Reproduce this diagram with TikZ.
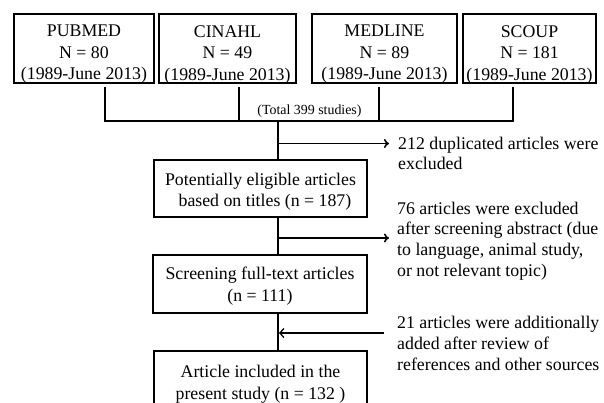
\documentclass[tikz,border=0pt]{standalone}
\usepackage{fontspec}
\setmainfont{Liberation Serif}
\usetikzlibrary{arrows.meta}
\begin{document}
\begin{tikzpicture}[x=1pt,y=-1pt,
  frame/.style={draw,line width=2pt,inner sep=0pt},
  txt/.style={align=center,inner sep=0pt,font=\fontsize{17.8}{21.5}\selectfont},
  side/.style={anchor=west,align=left,inner sep=0pt,
    font=\fontsize{17.8}{20.6}\selectfont},
  conn/.style={line width=2pt},
  arr/.style={line width=1.6pt,-{To[length=5pt,width=9pt]}},
  arrl/.style={line width=1.6pt,-{Straight Barb[length=4pt,width=9pt,line width=1.3pt]}}]
\clip (0,0) rectangle (604,402);
\useasboundingbox (0,0) rectangle (604,402);
% top boxes
\node[frame,minimum width=140,minimum height=69] (pubf) at (84,48.5) {};
\node[frame,minimum width=137,minimum height=69] (cinf) at (227.5,48.5) {};
\node[frame,minimum width=145,minimum height=69] (medf) at (384.5,48.5) {};
\node[frame,minimum width=133,minimum height=69] (scof) at (529.5,48.5) {};
\node[txt] (pub) at ([yshift=-6]pubf.center) {PUBMED\\N = 80\\(1989-June 2013)};
\node[txt] (cin) at ([yshift=-6]cinf.center) {CINAHL\\N = 49\\(1989-June 2013)};
\node[txt] (med) at ([yshift=-6]medf.center) {MEDLINE\\N = 89\\(1989-June 2013)};
\node[txt] (sco) at ([yshift=-6]scof.center) {SCOUP\\N = 181\\(1989-June 2013)};
% connectors from top boxes
\coordinate (a1) at (105,87); \coordinate (b1) at (105,120.5);
\coordinate (a2) at (239,87); \coordinate (b2) at (239,120.5);
\coordinate (a3) at (378.5,87); \coordinate (b3) at (378.5,120.5);
\coordinate (a4) at (512.5,87); \coordinate (b4) at (512.5,120.5);
\draw[conn,line join=miter] (a1) -- (b1) -- (b4) -- (a4);
\draw[conn] (a2) -- (b2);
\draw[conn] (a3) -- (b3);
\node[inner sep=0pt,font=\fontsize{13.9}{16}\selectfont] (tot) at (309.5,111) {(Total 399 studies)};
% main boxes
\node[frame,minimum width=213,minimum height=57] (e1f) at (260.5,188.5) {};
\node[frame,minimum width=214,minimum height=58] (e2f) at (260,284) {};
\node[frame,minimum width=213,minimum height=60] (e3f) at (260.5,381) {};
\node[txt] (e1) at ([yshift=-3]e1f.center) {Potentially eligible articles\\\ \ based on titles (n = 187)};
\node[txt] (e2) at ([yshift=-2]e2f.center) {Screening full-text articles\\(n = 111)};
\node[txt] (e3) at ([yshift=-3]e3f.center) {Article included in the\\present study (n = 132 )};
\coordinate (j) at (278,120.5);
\draw[conn] (j) -- (j |- e1f.north);
\draw[conn] (e1f.south -| j) -- (j |- e2f.north);
\draw[conn] (e2f.south -| j) -- (j |- e3f.north);
% side arrows
\coordinate (s1) at (278,143.5); \coordinate (t1) at (389,143.5);
\draw[arr] (s1) -- (t1);
\coordinate (s2) at (278,238); \coordinate (t2) at (389,238);
\draw[arr] (s2) -- (t2);
\coordinate (s3) at (384,333); \coordinate (t3) at (279,333);
\draw[arrl] (s3) -- (t3);
% side texts
\node[side] (x1) at (398,153.5) {212 duplicated articles were\\excluded};
\node[side] (x2) at (397,241) {76 articles were excluded\\after screening abstract (due\\to language, animal study,\\or not relevant topic)};
\node[side] (x3) at (397,343.5) {21 articles were additionally\\added after review of\\references and other sources};
\end{tikzpicture}
\end{document}
